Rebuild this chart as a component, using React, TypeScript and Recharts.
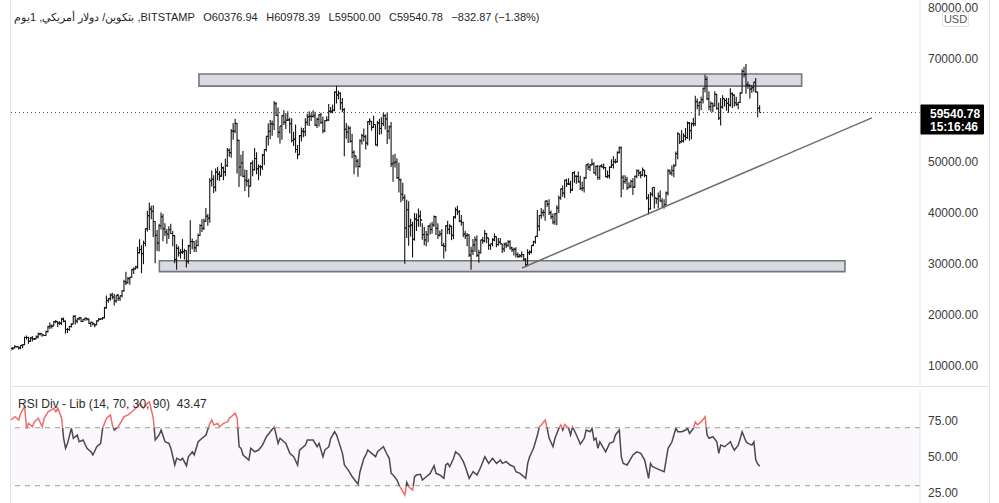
import { ComposedChart, LineChart, Line, Bar, XAxis, YAxis, ReferenceArea, ReferenceLine } from "recharts";

const FONT = '"Liberation Sans", Arial, sans-serif';

// daily BTC/USD, Oct 29 2020 .. Nov 17 2021, prices in thousands
const firstOpenK = 13.27;
const lastOpenK = 60.37694;
const closeK = [
  13.45, 13.56, 13.8,
  13.76, 13.55, 14.03, 14.16, 15.58, 15.58, 14.83, 15.48, 15.33, 15.3, 15.7, 16.28, 16.32, 16.07, 15.96, 16.73, 17.66, 17.8, 17.82, 18.68, 18.7, 18.42, 18.36, 19.16, 18.72, 17.15, 17.14, 17.72, 18.18, 19.7,
  18.79, 19.22, 19.44, 18.69, 19.15, 19.36, 19.17, 18.32, 18.55, 18.25, 18.04, 18.81, 19.14, 19.25, 19.44, 21.37, 22.8, 23.14, 23.87, 23.48, 22.72, 23.82, 23.24, 23.73, 24.71, 26.49, 26.28, 27.08, 27.36, 28.84, 29.0,
  29.37, 32.13, 32.78, 31.97, 33.99, 36.82, 39.37, 40.67, 40.24, 38.24, 35.54, 34.01, 37.39, 39.16, 36.82, 36.18, 35.79, 36.63, 35.89, 35.47, 30.83, 33.0, 32.08, 32.26, 32.36, 32.57, 30.43, 33.47, 34.32, 34.32, 33.11,
  33.54, 35.51, 37.47, 36.93, 38.29, 39.26, 38.9, 46.2, 46.48, 44.92, 47.91, 47.5, 47.11, 48.72, 47.94, 49.2, 52.15, 51.68, 55.89, 55.92, 57.41, 54.09, 48.89, 49.68, 47.07, 46.28, 46.11, 45.14,
  49.63, 48.38, 50.54, 48.56, 48.93, 48.91, 51.21, 52.3, 54.88, 55.86, 57.33, 57.25, 61.26, 59.0, 55.66, 56.9, 58.92, 57.65, 58.03, 58.1, 57.35, 54.08, 54.34, 52.3, 51.32, 55.03, 55.86, 55.78, 57.63, 58.73, 58.8,
  58.77, 58.92, 57.06, 58.2, 59.12, 57.6, 56.0, 57.97, 58.08, 59.77, 59.79, 59.99, 63.5, 62.95, 63.31, 61.45, 60.09, 56.25, 55.72, 56.47, 53.91, 51.76, 51.09, 50.05, 49.0, 54.02, 55.03, 54.82, 53.56, 57.75,
  57.83, 56.63, 57.21, 53.24, 57.47, 56.43, 57.38, 58.93, 58.28, 55.86, 56.77, 49.5, 49.71, 49.88, 46.76, 46.43, 43.54, 42.91, 36.97, 40.55, 37.31, 37.54, 34.77, 38.71, 38.49, 39.29, 38.53, 35.68, 34.62, 35.68, 37.33,
  36.69, 37.57, 39.19, 36.89, 35.55, 35.8, 33.59, 33.42, 37.39, 36.7, 37.34, 35.55, 39.1, 40.52, 40.14, 38.35, 38.05, 35.79, 35.48, 35.6, 31.68, 32.51, 33.68, 34.66, 31.64, 32.16, 34.64, 34.46, 35.87, 35.04,
  33.57, 33.9, 34.66, 35.28, 33.75, 34.23, 33.86, 32.88, 33.81, 33.52, 34.26, 33.09, 32.73, 32.82, 31.78, 31.42, 31.53, 31.78, 30.84, 29.79, 32.14, 32.31, 33.58, 34.29, 35.35, 37.34, 39.41, 39.99, 40.01, 42.24, 41.63,
  39.97, 39.2, 38.15, 39.75, 40.87, 42.84, 44.61, 43.79, 46.29, 45.6, 45.55, 44.43, 47.79, 47.1, 47.05, 46.0, 44.7, 44.8, 46.72, 49.34, 48.87, 49.28, 49.51, 47.71, 48.99, 46.85, 49.07, 48.9, 48.81, 47.02, 47.16,
  48.85, 49.28, 49.94, 49.92, 51.76, 52.66, 46.86, 46.05, 46.4, 44.85, 45.16, 46.06, 44.96, 47.09, 48.15, 47.75, 47.29, 48.31, 47.26, 42.84, 40.69, 43.57, 44.9, 42.84, 42.72, 43.21, 42.24, 41.03, 41.52, 43.79,
  48.12, 47.71, 48.2, 49.11, 51.51, 55.36, 53.81, 53.97, 54.96, 54.66, 57.47, 56.01, 57.37, 57.35, 61.67, 60.88, 61.53, 62.04, 64.26, 65.99, 62.21, 60.69, 61.29, 60.86, 63.08, 60.33, 58.46, 60.62, 62.23, 61.89, 61.34,
  61.0, 63.23, 62.94, 61.45, 61.13, 61.53, 63.33, 67.57, 66.97, 64.95, 64.86, 64.14, 64.4, 65.5, 63.56, 60.37365, 59.54078,
];
const highK = [
  13.63, 13.65, 14.1,
  13.89, 13.82, 14.07, 14.24, 15.75, 15.96, 15.74, 15.66, 15.85, 15.47, 15.96, 16.48, 16.48, 16.32, 16.13, 16.88, 17.86, 18.48, 18.12, 18.8, 18.97, 18.75, 18.77, 19.41, 19.48, 18.92, 17.45, 17.87, 18.35, 19.86,
  19.92, 19.31, 19.57, 19.52, 19.17, 19.42, 19.4, 19.29, 18.64, 18.56, 18.27, 18.94, 19.4, 19.32, 19.56, 21.56, 23.8, 23.27, 24.17, 24.3, 24.1, 23.84, 24.1, 23.79, 24.79, 26.87, 28.42, 27.39, 27.41, 28.99, 29.3,
  29.6, 33.3, 34.78, 33.6, 34.5, 36.94, 40.35, 41.95, 41.33, 41.4, 38.3, 36.6, 37.8, 40.0, 39.7, 37.9, 36.8, 37.3, 37.8, 36.4, 35.6, 33.8, 33.4, 32.9, 34.8, 32.9, 32.6, 33.7, 38.5, 34.9, 34.4,
  34.7, 35.9, 37.7, 38.7, 38.8, 40.9, 39.7, 46.7, 48.2, 47.3, 48.6, 48.9, 48.1, 49.7, 49.0, 50.5, 52.6, 52.5, 56.3, 57.5, 58.3, 57.5, 54.2, 51.3, 52.0, 48.4, 48.3, 46.6,
  49.8, 50.2, 52.6, 51.8, 49.4, 49.3, 51.5, 52.4, 54.9, 57.4, 58.1, 58.0, 61.8, 61.6, 60.5, 56.9, 59.0, 60.0, 59.4, 59.8, 58.5, 58.4, 55.8, 57.2, 53.2, 55.1, 56.6, 56.5, 58.4, 59.3, 59.8,
  59.4, 60.0, 59.7, 58.5, 59.2, 59.5, 58.7, 58.1, 58.8, 61.2, 60.6, 61.1, 63.7, 64.8, 63.8, 63.5, 62.4, 60.4, 57.5, 57.0, 56.8, 55.4, 52.1, 51.1, 50.5, 54.3, 55.4, 56.4, 55.2, 57.9,
  58.4, 57.9, 58.9, 57.2, 57.9, 58.3, 58.6, 59.5, 59.2, 59.5, 57.0, 57.7, 51.3, 51.5, 50.6, 49.7, 46.6, 45.8, 43.5, 42.5, 42.2, 38.8, 38.2, 39.9, 39.8, 40.8, 40.4, 37.9, 37.2, 36.4, 37.5,
  37.9, 38.2, 39.4, 39.3, 37.9, 36.5, 36.8, 34.1, 37.5, 38.4, 37.7, 37.4, 39.3, 41.0, 41.3, 40.5, 39.5, 38.2, 36.4, 36.0, 35.7, 33.3, 34.8, 35.3, 35.5, 32.7, 34.7, 35.2, 36.6, 36.0,
  35.0, 33.9, 35.0, 35.9, 35.3, 35.0, 35.0, 33.9, 34.1, 34.2, 34.6, 34.6, 33.3, 33.1, 33.2, 32.2, 31.9, 32.4, 31.9, 31.1, 32.8, 32.6, 33.6, 34.5, 35.4, 40.5, 39.5, 40.9, 40.6, 42.3, 42.4,
  42.6, 40.4, 39.8, 39.9, 41.4, 43.3, 44.7, 45.3, 46.4, 46.6, 46.7, 46.2, 47.9, 48.1, 47.3, 48.0, 47.2, 46.0, 47.0, 49.4, 49.7, 49.5, 50.5, 49.8, 49.2, 49.3, 49.2, 49.5, 49.6, 48.9, 48.2,
  49.0, 50.4, 51.0, 50.5, 51.9, 52.9, 52.9, 47.3, 47.3, 47.0, 45.9, 46.4, 46.7, 47.2, 48.4, 48.4, 48.1, 48.8, 48.3, 47.3, 43.6, 44.0, 44.9, 45.0, 42.9, 43.9, 44.3, 42.8, 42.6, 44.1,
  48.5, 48.4, 49.2, 49.5, 51.9, 55.7, 55.3, 56.1, 55.5, 56.5, 57.8, 57.7, 57.6, 58.5, 62.8, 62.3, 61.7, 62.6, 64.4, 66.9, 66.6, 63.7, 61.7, 61.5, 63.7, 63.2, 61.5, 62.4, 62.9, 62.3, 62.4,
  62.4, 64.3, 63.5, 63.1, 62.6, 61.6, 63.5, 68.0, 68.5, 69.0, 65.6, 65.0, 64.9, 65.5, 66.3, 63.6, 60.97839,
];
const lowK = [
  12.99, 13.13, 13.42,
  13.62, 13.22, 13.3, 13.52, 14.09, 15.17, 14.35, 14.71, 14.8, 15.08, 15.27, 15.44, 15.96, 15.72, 15.86, 15.87, 16.55, 17.22, 17.35, 17.76, 18.37, 17.62, 18.0, 18.02, 18.56, 16.33, 16.44, 16.88, 17.54, 18.18,
  18.13, 18.34, 18.93, 18.58, 18.59, 18.86, 18.9, 18.22, 17.62, 17.93, 17.57, 18.02, 18.73, 19.0, 19.05, 19.28, 21.23, 22.35, 22.75, 23.07, 21.82, 22.35, 22.7, 22.7, 23.44, 24.5, 25.85, 26.08, 25.88, 27.32, 28.0,
  28.8, 29.0, 32.0, 28.13, 29.9, 33.4, 36.31, 36.57, 38.7, 35.2, 30.1, 32.5, 32.4, 36.7, 34.4, 35.4, 33.9, 34.8, 35.8, 33.4, 30.1, 28.8, 31.4, 31.0, 31.9, 30.8, 29.25, 30.0, 31.9, 32.8, 32.3,
  32.3, 33.4, 35.4, 36.2, 36.6, 38.2, 37.4, 38.0, 45.1, 43.8, 44.1, 46.3, 46.2, 47.0, 46.3, 47.1, 48.9, 50.9, 50.7, 54.2, 55.5, 47.6, 45.0, 47.1, 46.9, 44.2, 45.1, 43.0,
  45.1, 47.1, 48.2, 47.5, 46.3, 47.2, 48.3, 49.3, 51.9, 53.1, 54.3, 55.0, 56.1, 58.9, 54.6, 53.5, 54.2, 57.1, 56.3, 57.9, 55.5, 53.7, 53.0, 51.7, 50.4, 51.3, 53.9, 54.7, 54.9, 57.0, 56.9,
  57.9, 58.5, 56.9, 56.5, 56.8, 57.3, 55.5, 55.7, 57.8, 57.9, 59.4, 59.4, 59.8, 61.3, 62.1, 60.1, 59.6, 51.0, 54.4, 53.6, 53.7, 50.6, 47.5, 48.8, 47.0, 48.8, 53.3, 53.9, 52.3, 53.1,
  57.1, 56.0, 56.5, 53.1, 52.9, 55.2, 55.3, 56.9, 56.2, 53.4, 54.3, 48.9, 46.0, 48.8, 46.6, 43.9, 42.0, 42.3, 30.0, 35.0, 33.5, 35.3, 31.2, 34.5, 36.4, 37.2, 37.2, 34.7, 33.6, 33.4, 34.2,
  35.7, 35.9, 37.2, 35.6, 34.8, 35.3, 33.4, 31.0, 32.4, 35.8, 35.7, 34.6, 34.8, 38.8, 39.5, 38.1, 37.4, 35.2, 34.8, 33.4, 31.3, 28.8, 31.7, 32.3, 31.3, 30.2, 32.0, 33.9, 34.2, 34.0,
  32.7, 32.7, 33.4, 34.4, 33.2, 33.5, 33.8, 32.1, 32.3, 33.0, 33.3, 32.7, 32.3, 31.6, 31.2, 31.1, 31.2, 31.2, 30.5, 29.3, 29.5, 31.7, 32.0, 33.4, 33.9, 35.2, 36.4, 38.8, 39.2, 38.4, 41.1,
  39.5, 38.7, 37.7, 37.6, 37.5, 39.9, 42.5, 43.1, 42.8, 45.0, 45.4, 43.8, 44.2, 45.8, 45.6, 45.8, 44.4, 44.2, 43.9, 46.6, 48.3, 48.1, 49.2, 47.6, 47.2, 46.4, 46.4, 48.8, 48.4, 46.9, 46.7,
  46.6, 48.7, 48.6, 49.6, 49.7, 51.5, 43.0, 44.5, 45.6, 44.4, 44.7, 44.8, 43.4, 44.8, 46.7, 47.1, 46.7, 47.1, 46.9, 42.5, 39.6, 40.6, 43.1, 40.8, 41.7, 40.8, 42.1, 40.9, 40.8, 41.4,
  43.3, 47.4, 47.2, 46.9, 49.1, 50.4, 53.4, 53.7, 53.7, 54.1, 54.4, 54.0, 54.3, 56.8, 56.9, 60.2, 58.9, 60.0, 61.3, 63.5, 62.0, 60.0, 59.7, 59.6, 60.7, 60.1, 58.1, 57.0, 60.3, 60.7, 59.9,
  59.5, 60.7, 60.4, 60.7, 60.8, 60.2, 61.4, 63.3, 66.4, 63.2, 64.2, 62.3, 63.4, 63.6, 63.4, 58.6, 59.5,
];

// RSI(14): day index -> value
const rsiDays = [
  0, 2, 4, 5, 7, 8, 9, 11, 12, 14, 16, 17, 19, 22, 23, 24, 26, 27, 28, 29, 31, 32, 34, 35, 37, 39, 41, 42, 44, 46, 47, 49,
  51, 52, 53, 55, 57, 58, 60, 62, 64, 66, 68, 70, 71, 73, 74, 76, 77, 79, 81, 82, 84, 85, 87, 88, 90, 91, 93, 94, 96, 98,
  100, 102, 103, 104, 106, 107, 109, 111, 112, 115, 116, 117, 118, 119, 122, 123, 125, 127, 129, 131, 133, 135, 137, 138,
  140, 141, 143, 145, 147, 148, 151, 152, 155, 157, 158, 160, 161, 163, 164, 166, 167, 170, 171, 173, 175, 178, 179, 181,
  182, 183, 185, 187, 188, 189, 191, 193, 194, 195, 196, 198, 199, 200, 202, 203, 204, 206, 207, 208, 210, 211, 213, 215,
  217, 218, 220, 222, 223, 224, 225, 227, 228, 230, 232, 233, 235, 237, 239, 241, 242, 243, 245, 247, 249, 251, 252, 254,
  256, 258, 259, 261, 264, 265, 266, 268, 270, 271, 272, 274, 275, 276, 278, 279, 281, 282, 283, 284, 286, 287, 288, 290,
  292, 294, 295, 297, 298, 299, 300, 301, 302, 305, 307, 309, 310, 312, 313, 314, 316, 317, 319, 321, 323, 325, 327, 328,
  329, 331, 333, 335, 337, 338, 339, 341, 342, 344, 346, 347, 348, 350, 351, 352, 354, 356, 357, 358, 360, 362, 363, 364,
  366, 369, 370, 371, 373, 375, 377, 378, 380, 381, 382, 383, 384,
];
const rsiValues = [
  75.3, 77.6, 75.3, 79.9, 84.5, 69.6, 73, 70.7, 74, 76.5, 70.7, 76.5, 81, 83.4, 81, 83.4, 76.5, 62.7, 55.8, 59.2, 69.6, 62.7, 65, 60.3, 61.5, 55.8, 53.4, 51.2, 56.9, 59.2, 69.6, 76.5,
  78.8, 71.9, 68.4, 70.7, 75.3, 77.6, 78.8, 81, 83.4, 86.8, 83.4, 86.8, 87.9, 76.5, 61.5, 65, 68.4, 60.3, 59.2, 55.8, 44.3, 48.9, 47.7, 48.9, 43.8, 50, 53.4, 51.2, 60.3, 62.7,
  65, 73, 75.3, 71.9, 73, 70.7, 73, 74, 76.5, 79.9, 76.5, 56.9, 55.8, 51.2, 47.7, 55.8, 53.4, 54.6, 58, 63.8, 67.2, 70.7, 59.2, 62.7,
  60.3, 59.2, 52.3, 50, 44.3, 54.6, 58, 61.5, 61.5, 56.9, 59.2, 50, 54.6, 56.9, 62.7, 67.2, 65, 52.3, 44.3, 40.8, 36.2, 31, 39.7, 48.9,
  51.2, 54.6, 52.3, 50, 53.4, 54.6, 56.9, 51.2, 48.9, 38.5, 37.4, 33.9, 30.5, 28.2, 23.6, 32.3, 29.3, 27, 36.2, 37.4, 37.9, 33.9, 36.2, 38.5,
  43.8, 38.5, 37.4, 35.1, 44.3, 45.4, 43.1, 48.9, 53.4, 51.2, 46.6, 43.1, 35.1, 39.7, 37.4, 43.1, 46.6, 50, 45.4, 48.9, 45.4, 47.7, 45.4, 46.6,
  44.3, 43.1, 39.7, 38.5, 35.1, 45.4, 50, 55.8, 65, 70.7, 71.9, 75.3, 69.6, 62.7, 56.9, 62.7, 69.6, 71.9, 68.4, 72.3, 69.6, 65, 70.7, 65,
  58.6, 62.7, 68.4, 67.2, 69.6, 61.5, 62.7, 55.8, 60.3, 53.4, 59.2, 60.3, 65, 68.4, 50, 45.4, 44.3, 46.6, 51.2, 53.4, 52.3, 47.7, 35.1, 45.4,
  43.1, 42, 40.8, 39.7, 55.8, 58, 60.3, 69.6, 67.2, 67.2, 68.4, 69.6, 66.1, 69.6, 74, 71.9, 74, 77.6, 65, 62.7, 63.8, 60.3, 52.3, 58,
  56.9, 60.3, 56.9, 54.6, 58, 67.2, 60.3, 59.2, 58, 60.3, 47.7, 45, 43.47,
];

// 60000 sits under the last-price tag, as in the source
const priceTicks = [10000, 20000, 30000, 40000, 50000, 70000, 80000];
const rsiTicks = [25, 50, 75];
const rsiLevels = [70, 30];

// drawings on the price pane (day index / price)
const zones = [
  { from: 96.4, to: 405.5, low: 64700, high: 67070 },
  { from: 76.1, to: 427.7, low: 28440, high: 30580 },
];
const trendStart = { day: 262, price: 29160 };
const trendEnd = { day: 441.5, price: 58500 };

const symbolName = "بتكوين/ دولار أمريكي, 1يوم";
const exchange = "BITSTAMP";
const barTimer = "15:16:46";

const DAY_DOMAIN: [number, number] = [-0.5, 466.2];

const rows = closeK.map((c, i) => {
  const isLast = i === closeK.length - 1;
  const o = i === 0 ? firstOpenK : isLast ? lastOpenK : closeK[i - 1];
  return {
    i,
    o: o * 1000,
    h: highK[i] * 1000,
    l: lowK[i] * 1000,
    c: c * 1000,
    range: [lowK[i] * 1000, highK[i] * 1000],
  };
});
const last = rows[rows.length - 1];
const prevClose = rows[rows.length - 2].c;
const change = last.c - prevClose;
const changePct = (change / prevClose) * 100;

const rsiRows = rsiDays.map((d, k) => ({ i: d, rsi: rsiValues[k] }));
const rsiMax = Math.max(...rsiValues);
const rsiMin = Math.min(...rsiValues);
const off = (v: number) => (rsiMax - v) / (rsiMax - rsiMin);

const fmt = (v: number) => v.toFixed(2);
const signed = (v: number) => (v < 0 ? "\u2212" + Math.abs(v).toFixed(2) : v.toFixed(2));

function OhlcBar(props: any) {
  const { x, y, width, height, payload } = props;
  if (x == null || payload == null) return null;
  const top = Math.min(y, y + height);
  const bottom = Math.max(y, y + height);
  const span = payload.h - payload.l || 1;
  const py = (v: number) => bottom - ((v - payload.l) / span) * (bottom - top);
  const cx = x + width / 2;
  return (
    <g stroke="#131313" strokeWidth={1.1}>
      <line x1={cx} x2={cx} y1={top} y2={bottom} />
      <line x1={cx - 1.4} x2={cx} y1={py(payload.o)} y2={py(payload.o)} />
      <line x1={cx} x2={cx + 1.4} y1={py(payload.c)} y2={py(payload.c)} />
    </g>
  );
}

function PriceTag(props: any) {
  const vb = props.viewBox;
  if (!vb) return null;
  const x = vb.x + vb.width;
  const y = vb.y;
  return (
    <g>
      <rect x={x} y={y - 8} width={64} height={30} fill="#000" rx={1} />
      <text x={x + 10} y={y + 5} fill="#fff" fontSize={12} fontWeight="bold" fontFamily={FONT}>
        {fmt(last.c)}
      </text>
      <text x={x + 10} y={y + 18} fill="#fff" fontSize={12} fontWeight="bold" fontFamily={FONT}>
        {barTimer}
      </text>
    </g>
  );
}

const axisTick = { fontSize: 12, fill: "#3a3a3a", fontFamily: FONT };

export default function App() {
  return (
    <div style={{ position: "absolute", left: 0, top: 0, width: 999, height: 503, background: "#fff", overflow: "hidden", fontFamily: FONT }}>
      <div style={{ position: "absolute", left: 0, top: 0 }}>
        <ComposedChart width={999} height={388} data={rows} margin={{ top: 0, right: 0, left: 10, bottom: 3 }}>
          <XAxis dataKey="i" type="number" domain={DAY_DOMAIN} hide allowDataOverflow />
          <YAxis
            orientation="right"
            type="number"
            domain={[6290, 81530]}
            ticks={priceTicks}
            width={79}
            allowDataOverflow
            tickFormatter={fmt}
            tick={axisTick}
            tickLine={false}
            tickSize={0}
            tickMargin={8}
            axisLine={{ stroke: "#e0e3eb" }}
          />
          {zones.map((z, k) => (
            <ReferenceArea
              key={k}
              x1={z.from}
              x2={z.to}
              y1={z.low}
              y2={z.high}
              fill="#d3d5dc"
              fillOpacity={0.85}
              stroke="#737680"
              strokeWidth={1.6}
              ifOverflow="visible"
            />
          ))}
          <ReferenceLine
            segment={[
              { x: trendStart.day, y: trendStart.price },
              { x: trendEnd.day, y: trendEnd.price },
            ]}
            stroke="#6e6e6e"
            strokeWidth={1.5}
            ifOverflow="visible"
          />
          <ReferenceLine y={last.c} stroke="#555" strokeDasharray="1 3" label={<PriceTag />} />
          <Bar dataKey="range" barSize={2} shape={<OhlcBar />} isAnimationActive={false} />
        </ComposedChart>
      </div>

      <div style={{ position: "absolute", left: 0, top: 388 }}>
        <LineChart width={999} height={115} data={rsiRows} margin={{ top: 2, right: 0, left: 10, bottom: 0 }}>
          <defs>
            <linearGradient id="rsiStroke" x1="0" y1="0" x2="0" y2="1">
              <stop offset={0} stopColor="#f26b6b" />
              <stop offset={off(rsiLevels[0])} stopColor="#f26b6b" />
              <stop offset={off(rsiLevels[0])} stopColor="#4a4a4a" />
              <stop offset={off(rsiLevels[1])} stopColor="#4a4a4a" />
              <stop offset={off(rsiLevels[1])} stopColor="#f26b6b" />
              <stop offset={1} stopColor="#f26b6b" />
            </linearGradient>
          </defs>
          <XAxis dataKey="i" type="number" domain={DAY_DOMAIN} hide allowDataOverflow />
          <YAxis
            orientation="right"
            type="number"
            domain={[18.1, 96]}
            ticks={rsiTicks}
            width={79}
            allowDataOverflow
            tickFormatter={fmt}
            tick={axisTick}
            tickLine={false}
            tickSize={0}
            tickMargin={8}
            axisLine={{ stroke: "#e0e3eb" }}
          />
          <ReferenceArea y1={rsiLevels[1]} y2={rsiLevels[0]} fill="#9c27b0" fillOpacity={0.04} stroke="none" />
          {rsiLevels.map((lv) => (
            <ReferenceLine key={lv} y={lv} stroke="#9a9ca3" strokeDasharray="5 5" />
          ))}
          <Line
            dataKey="rsi"
            type="linear"
            stroke="url(#rsiStroke)"
            strokeWidth={1.5}
            dot={false}
            connectNulls
            isAnimationActive={false}
          />
        </LineChart>
      </div>

      {/* pane frames */}
      <div style={{ position: "absolute", left: 10, top: 0, width: 1, height: 503, background: "#e0e3eb" }} />
      <div style={{ position: "absolute", left: 10, top: 386, width: 979, height: 1, background: "#e0e3eb" }} />
      <div style={{ position: "absolute", left: 989, top: 0, width: 1, height: 503, background: "#e0e3eb" }} />

      {/* legend */}
      <div style={{ position: "absolute", left: 14, top: 11, fontSize: 11, color: "#1f1f1f", whiteSpace: "nowrap", display: "flex", gap: 8.5 }}>
        <span>
          <span dir="rtl">{symbolName}</span> ,{exchange}
        </span>
        <span>O{fmt(last.o)}</span>
        <span>H{fmt(last.h)}</span>
        <span>L{fmt(last.l)}</span>
        <span>C{fmt(last.c)}</span>
        <span>
          {signed(change)} ({signed(changePct)}%)
        </span>
      </div>
      <div style={{ position: "absolute", left: 18, top: 397, fontSize: 12, color: "#2a2a2a", whiteSpace: "nowrap" }}>
        RSI Div - Lib (14, 70, 30, 90)&nbsp;&nbsp;{fmt(rsiValues[rsiValues.length - 1])}
      </div>
      <div
        style={{
          position: "absolute",
          left: 942,
          top: 12,
          width: 25,
          height: 13,
          border: "1px solid #e0e3eb",
          background: "#fff",
          fontSize: 11,
          color: "#555",
          lineHeight: "13px",
          textAlign: "center",
          borderRadius: 2,
        }}
      >
        USD
      </div>
    </div>
  );
}
